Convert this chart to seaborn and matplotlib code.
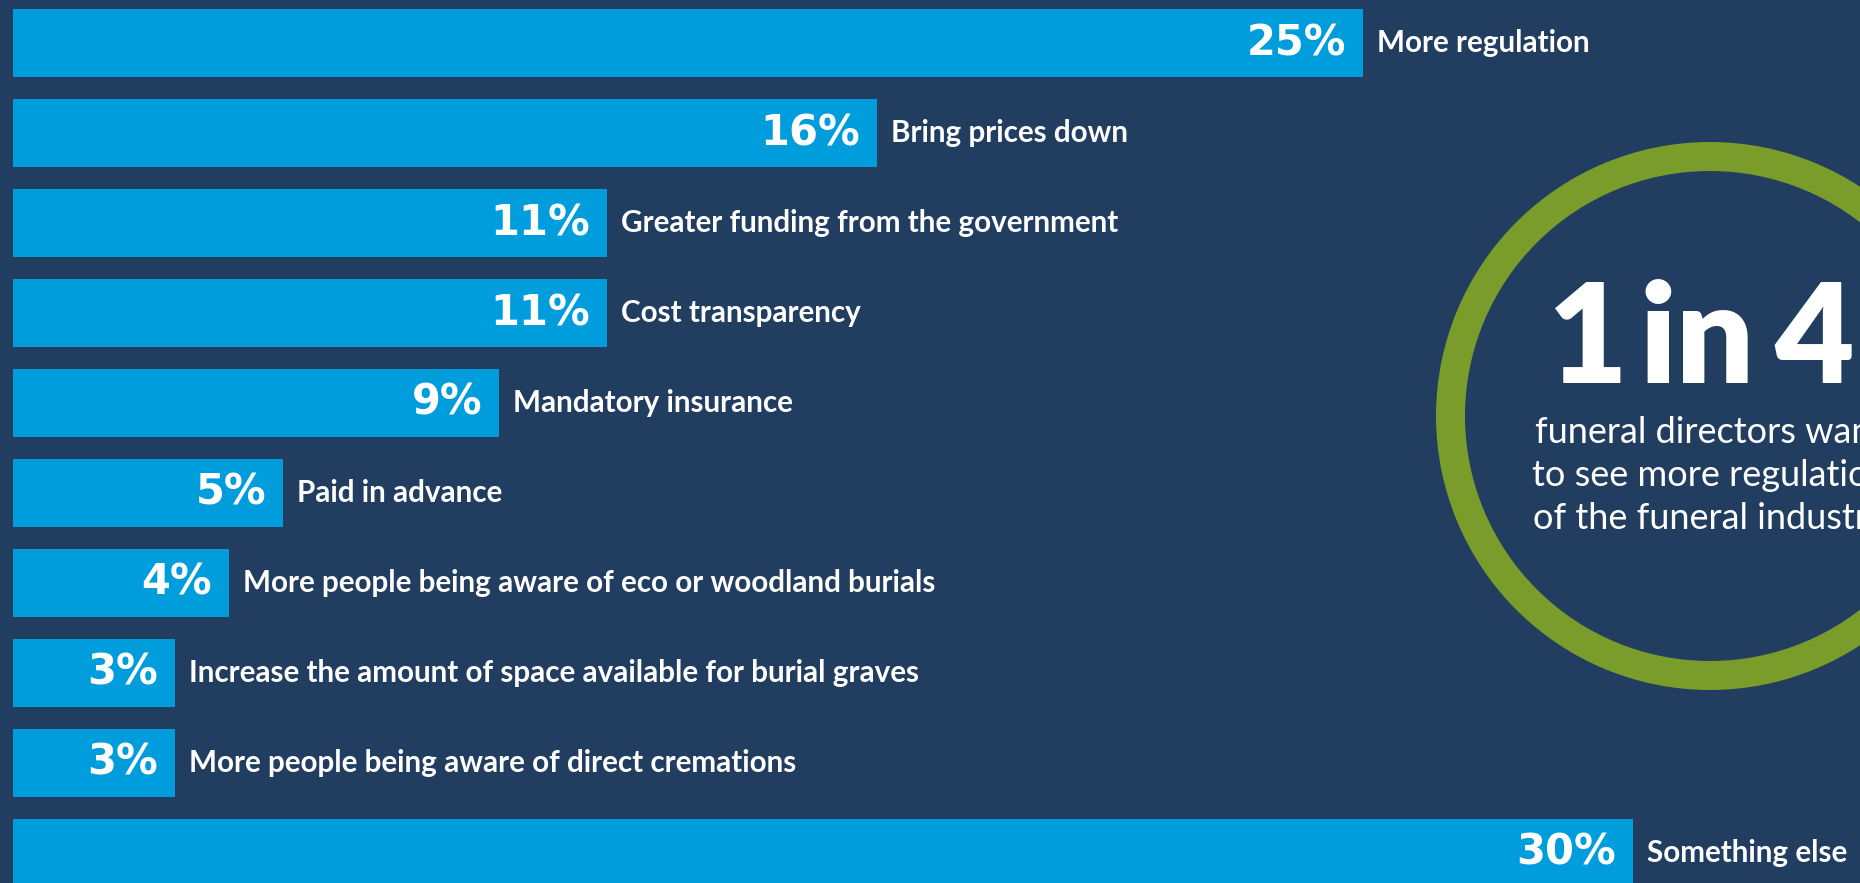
import matplotlib
matplotlib.use("Agg")
import matplotlib.pyplot as plt
import matplotlib.patches as mpatches
import seaborn as sns
import pandas as pd

categories = ["More regulation", "Bring prices down", "Greater funding from the government",
              "Cost transparency", "Mandatory insurance", "Paid in advance",
              "More people being aware of eco or woodland burials",
              "Increase the amount of space available for burial graves",
              "More people being aware of direct cremations", "Something else"]
values = [25, 16, 11, 11, 9, 5, 4, 3, 3, 30]
pct_labels = ["25%", "16%", "11%", "11%", "9%", "5%", "4%", "3%", "3%", "30%"]
headline_parts = ["1", "in", "4"]
sub_lines = ["funeral directors want", "to see more regulation", "of the funeral industry"]

BG = "#213d60"
BAR = "#009ddd"
GREEN = "#799c2a"

W, H, DPI = 1860, 883, 100
sns.set_theme(style="white")
fig = plt.figure(figsize=(W / DPI, H / DPI), dpi=DPI, facecolor=BG)
ax = fig.add_axes([0, 0, 1, 1])
ax.set_facecolor(BG)

df = pd.DataFrame({"cat": categories, "val": values})
sns.barplot(data=df, x="val", y="cat", orient="h", color=BAR, saturation=1,
            width=68 / 90, linewidth=0, edgecolor=BAR, ax=ax)

px_per_unit = 54.0
left_px = 13.0
ax.set_xlim(-left_px / px_per_unit, (W - left_px) / px_per_unit)
ax.set_ylim((H - 43) / 90, -43 / 90)
ax.axis("off")

for i, (v, p, c) in enumerate(zip(values, pct_labels, categories)):
    ax.text(v - 17 / px_per_unit, i, p, ha="right", va="center", color="white",
            fontsize=30, fontweight="bold", family="DejaVu Sans")
    ax.text(v + 14 / px_per_unit, i, c, ha="left", va="center", color="white",
            fontsize=21.3, fontweight="bold", family="Lato")

# ring
ring = mpatches.Circle((1710 / DPI, (H - 416) / DPI), radius=259.5 / DPI,
                       transform=fig.dpi_scale_trans, fill=False,
                       edgecolor=GREEN, linewidth=29 * 72 / DPI, clip_on=False)
ax.add_patch(ring)

part_centers = [1588, 1697, 1814]
for part, cx in zip(headline_parts, part_centers):
    fig.text(cx / W, 1 - 383 / H, part, ha="center", va="baseline", color="white",
             fontsize=99, fontweight="heavy", family="Lato")
for k, line in enumerate(sub_lines):
    fig.text(1710 / W, 1 - (443 + 43 * k) / H, line, ha="center", va="baseline",
             color="white", fontsize=26, family="Lato")

fig.savefig("out.png", dpi=DPI, facecolor=BG)
